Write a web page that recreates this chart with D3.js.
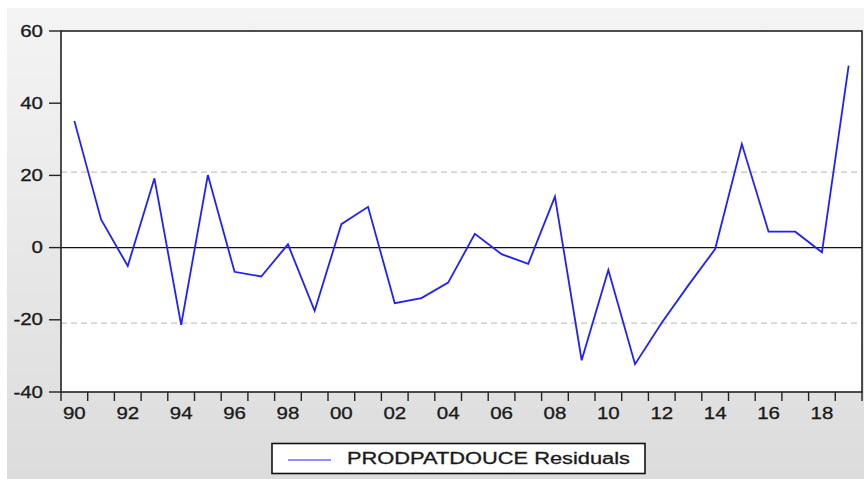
<!DOCTYPE html>
<html>
<head>
<meta charset="utf-8">
<script src="https://cdn.jsdelivr.net/npm/d3@7"></script>
<style>
  body { margin:0; background:#fff; }
  svg text { font-family:"Liberation Sans", Arial, sans-serif; }
</style>
</head>
<body>
<div id="chart"></div>
<script>
// residuals, 1990 - 2019
var years = d3.range(1990, 2020);
var residuals = [35.1, 7.8, -5.1, 19.2, -21.4, 20.1, -6.7, -8.0, 0.9, -17.5,
                 6.5, 11.3, -15.4, -14.0, -9.7, 3.8, -1.8, -4.5, 14.1, -31.2,
                 -6.2, -32.3, -20.8, -10.4, -0.4, 28.7, 4.4, 4.4, -1.3, 50.4];
var yTicks = [-40, -20, 0, 20, 40, 60];
var seBand = [-20.9, 20.9];
var seriesName = "PRODPATDOUCE Residuals";

var W = 864, H = 479;
var plot = {left:61, top:31, right:862, bottom:392};
var sx = 1.28; // the original text is stretched horizontally

var svg = d3.select("#chart").append("svg")
    .attr("width", W).attr("height", H);

var grad = svg.append("defs").append("linearGradient")
    .attr("id", "bg").attr("x1", 0).attr("y1", 0).attr("x2", 0).attr("y2", 1);
grad.append("stop").attr("offset", "0%").attr("stop-color", "#f4f4f4");
grad.append("stop").attr("offset", "100%").attr("stop-color", "#dcdcdc");

svg.append("rect")
    .attr("x", 7).attr("y", 8).attr("width", W - 7).attr("height", H - 8)
    .attr("fill", "url(#bg)");

var x = d3.scaleLinear().domain([1990, 2020]).range([plot.left, plot.right]);
var y = d3.scaleLinear().domain([-40, 60]).range([plot.bottom, plot.top]);

svg.append("rect")
    .attr("x", plot.left).attr("y", plot.top)
    .attr("width", plot.right - plot.left).attr("height", plot.bottom - plot.top)
    .attr("fill", "#fff");

// +/- S.E. dashed lines
svg.selectAll("line.se").data(seBand).enter().append("line")
    .attr("class", "se")
    .attr("x1", plot.left).attr("x2", plot.right)
    .attr("y1", function(d){ return y(d); }).attr("y2", function(d){ return y(d); })
    .attr("stroke", "#c4c4c4").attr("stroke-width", 1.2)
    .attr("stroke-dasharray", "6,4");

// zero line
svg.append("line")
    .attr("x1", plot.left).attr("x2", plot.right)
    .attr("y1", y(0)).attr("y2", y(0))
    .attr("stroke", "#111").attr("stroke-width", 1.4);

// series
var line = d3.line()
    .x(function(d, i){ return x(years[i] + 0.5); })
    .y(function(d){ return y(d); });
svg.append("path")
    .datum(residuals)
    .attr("d", line)
    .attr("fill", "none")
    .attr("stroke", "#2020ff")
    .attr("stroke-width", 1.8);

// frame
svg.append("rect")
    .attr("x", plot.left).attr("y", plot.top)
    .attr("width", plot.right - plot.left).attr("height", plot.bottom - plot.top)
    .attr("fill", "none").attr("stroke", "#222").attr("stroke-width", 1.6);

// y axis
var yAxis = svg.append("g");
yAxis.selectAll("line").data(yTicks).enter().append("line")
    .attr("x1", 49).attr("x2", plot.left)
    .attr("y1", function(d){ return y(d); }).attr("y2", function(d){ return y(d); })
    .attr("stroke", "#222").attr("stroke-width", 1.4);
yAxis.selectAll("text").data(yTicks).enter().append("text")
    .attr("transform", function(d){ return "translate(43," + (y(d) + 5.5) + ") scale(" + sx + ",1)"; })
    .attr("text-anchor", "end")
    .attr("font-size", 16)
    .attr("fill", "#1a1a1a")
    .attr("stroke", "#1a1a1a").attr("stroke-width", 0.3)
    .text(function(d){ return d; });

// x axis
var xTickYears = d3.range(1990, 2021);
var xAxis = svg.append("g");
xAxis.selectAll("line").data(xTickYears).enter().append("line")
    .attr("x1", function(d){ return x(d); }).attr("x2", function(d){ return x(d); })
    .attr("y1", plot.bottom).attr("y2", plot.bottom + 9)
    .attr("stroke", "#222").attr("stroke-width", 1.4);
xAxis.selectAll("text").data(years.filter(function(d){ return d % 2 === 0; })).enter().append("text")
    .attr("transform", function(d){ return "translate(" + x(d + 0.5) + ",419) scale(" + sx + ",1)"; })
    .attr("text-anchor", "middle")
    .attr("font-size", 16)
    .attr("fill", "#1a1a1a")
    .attr("stroke", "#1a1a1a").attr("stroke-width", 0.3)
    .text(function(d){ return d3.format("02d")(d % 100); });

// legend
var legend = svg.append("g");
legend.append("rect")
    .attr("x", 272).attr("y", 443.5).attr("width", 373).attr("height", 30)
    .attr("fill", "#fff").attr("stroke", "#111").attr("stroke-width", 1.6);
legend.append("line")
    .attr("x1", 288).attr("x2", 331).attr("y1", 460).attr("y2", 460)
    .attr("stroke", "#2020ff").attr("stroke-width", 1.2);
legend.append("text")
    .attr("x", 347).attr("y", 464)
    .attr("font-size", 16)
    .attr("fill", "#1a1a1a")
    .attr("stroke", "#1a1a1a").attr("stroke-width", 0.3)
    .attr("textLength", 283)
    .attr("lengthAdjust", "spacingAndGlyphs")
    .text(seriesName);
</script>
</body>
</html>
